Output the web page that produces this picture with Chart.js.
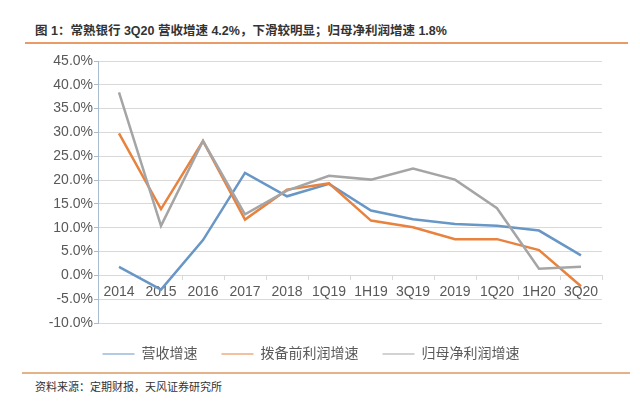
<!DOCTYPE html>
<html>
<head>
<meta charset="utf-8">
<script src="https://cdn.jsdelivr.net/npm/chart.js@4"></script>
<style>
  body { margin: 0; width: 640px; height: 401px; background: #fff; position: relative; overflow: hidden;
         font-family: "Liberation Sans", "Noto Sans CJK SC", sans-serif; }
  #title { position: absolute; left: 35px; top: 24px; font-size: 12.5px; font-weight: bold; color: #333; line-height: 15px; white-space: nowrap; }
  #topLine { position: absolute; left: 25px; top: 42px; width: 603px; height: 2px; background: #e89b66; }
  #bottomLine { position: absolute; left: 22px; top: 372px; width: 608px; height: 1.5px; background: #e3b288; }
  #source { position: absolute; left: 35px; top: 381px; font-size: 11px; color: #333; line-height: 13px; white-space: nowrap; }
  #myChart { position: absolute; left: 20px; top: 48px; }
</style>
</head>
<body>
<div id="title">图 1：常熟银行 3Q20 营收增速 4.2%，下滑较明显；归母净利润增速 1.8%</div>
<div id="topLine"></div>
<canvas id="myChart" width="620" height="323"></canvas>
<div id="bottomLine"></div>
<div id="source">资料来源：定期财报，天风证券研究所</div>
<script>
// values, in %
let categories = ['2014','2015','2016','2017','2018','1Q19','1H19','3Q19','2019','1Q20','1H20','3Q20'];
let revenueGrowth = [1.8, -3.0, 7.4, 21.5, 16.6, 19.2, 13.6, 11.8, 10.8, 10.4, 9.4, 4.2];
let ppopGrowth = [29.8, 13.9, 28.2, 11.7, 18.0, 19.3, 11.5, 10.1, 7.6, 7.6, 5.3, -2.3];
let netProfitGrowth = [38.4, 10.4, 28.2, 12.8, 17.8, 20.9, 20.1, 22.4, 20.1, 14.1, 1.4, 1.8];
let yMin = -10, yMax = 45, yStep = 5;

Chart.defaults.font.family = '"Liberation Sans", "Noto Sans CJK SC", sans-serif';
Chart.defaults.color = '#595959';

let ctx = document.getElementById('myChart').getContext('2d');

let lineChart = new Chart(ctx, {
  type: 'line',
  data: {
    labels: categories,
    datasets: [{
      label: '营收增速',
      data: revenueGrowth,
      borderColor: '#6897c6',
      backgroundColor: '#6897c6',
      order: 3
    }, {
      label: '拨备前利润增速',
      data: ppopGrowth,
      borderColor: '#e8823f',
      backgroundColor: '#e8823f',
      order: 2
    }, {
      label: '归母净利润增速',
      data: netProfitGrowth,
      borderColor: '#a5a5a5',
      backgroundColor: '#a5a5a5',
      order: 1
    }]
  },
  options: {
    responsive: false,
    animation: false,
    elements: {
      line: { borderWidth: 2.5, tension: 0 },
      point: { radius: 0, hoverRadius: 0 }
    },
    layout: { padding: { top: 13, right: 38, bottom: 0, left: 0 } },
    plugins: {
      tooltip: { enabled: false },
      legend: {
        position: 'bottom',
        labels: {
          usePointStyle: true,
          pointStyle: 'line',
          pointStyleWidth: 32,
          padding: 24,
          color: '#595959',
          font: { size: 14 },
          sort: (a, b) => a.datasetIndex - b.datasetIndex
        }
      }
    },
    scales: {
      x: {
        position: { y: 0 },
        offset: true,
        grid: { offset: true, drawOnChartArea: false, tickLength: 4, color: '#d9d9d9' },
        border: { color: '#d9d9d9' },
        ticks: { font: { size: 14 }, color: '#595959', padding: 4, maxRotation: 0, autoSkip: false }
      },
      y: {
        min: yMin,
        max: yMax,
        afterFit: s => { s.width = 78; },
        grid: { color: '#d9d9d9', tickLength: 4, tickColor: '#a9bbd0' },
        border: { color: '#a9bbd0' },
        ticks: {
          stepSize: yStep,
          padding: 1,
          font: { size: 14 },
          color: '#595959',
          callback: v => v.toFixed(1) + '%'
        }
      }
    }
  }
});
</script>
</body>
</html>
